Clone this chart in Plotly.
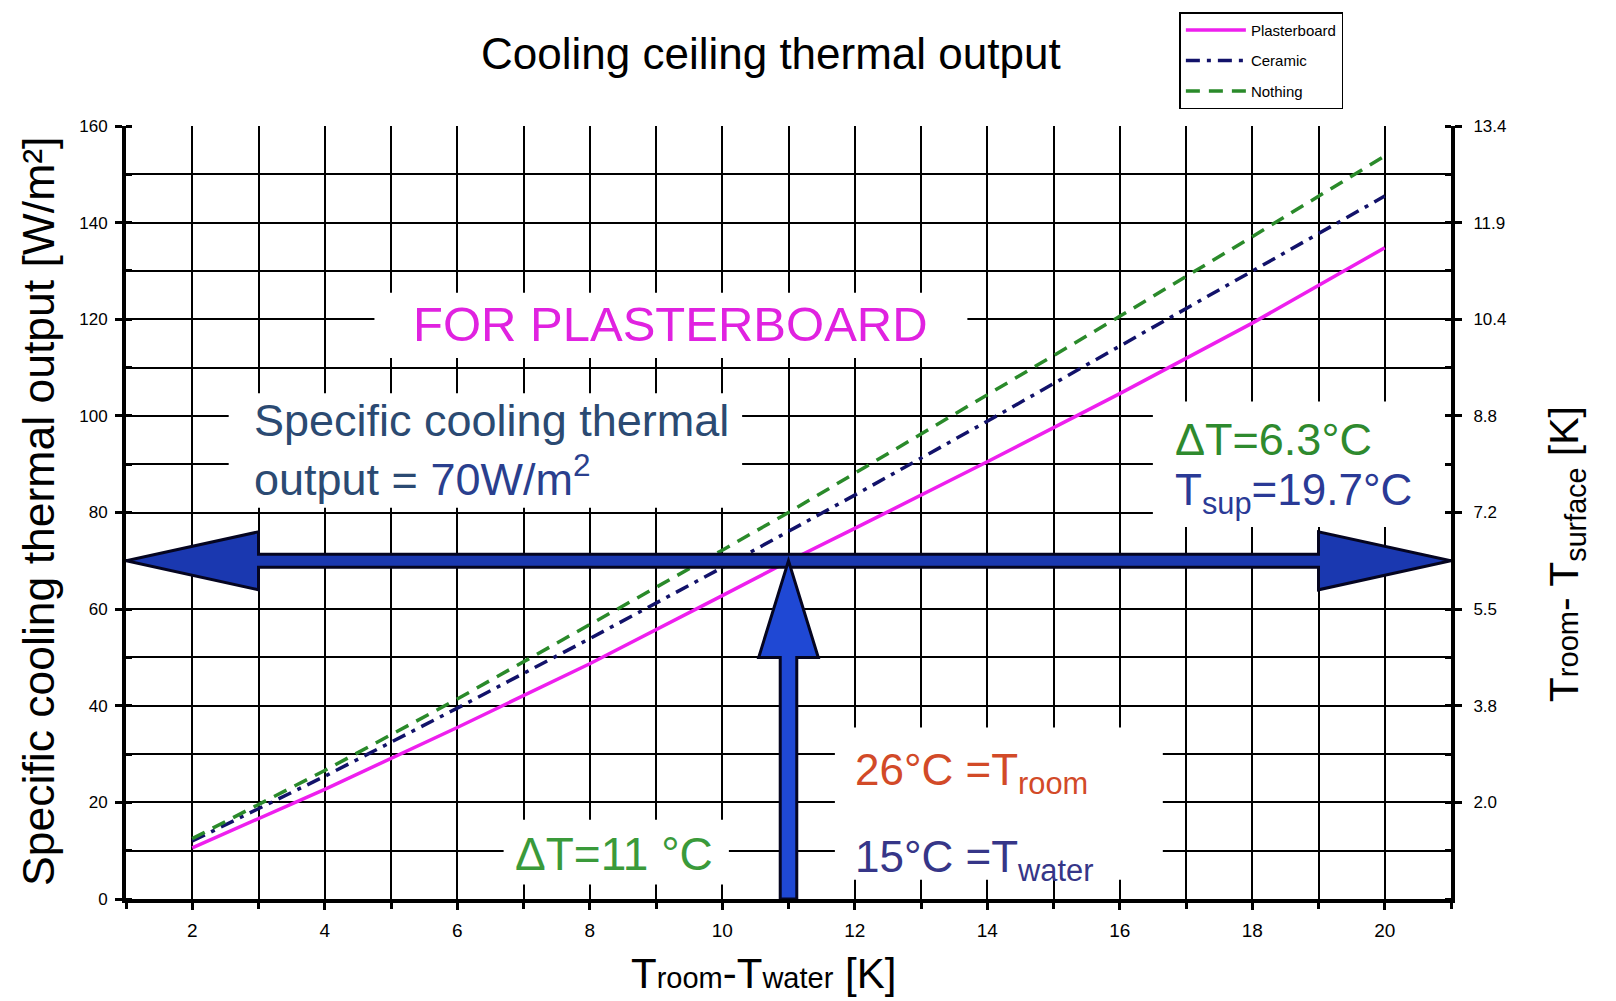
import plotly.graph_objects as go

# ---------------- data ----------------
delta_t = [2, 4, 6, 8, 10, 11, 12, 14, 16, 18, 20]
plasterboard = [10.6, 22.7, 35.5, 48.7, 62.8, 69.9, 76.7, 90.5, 104.6, 119.2, 134.8]
ceramic = [12.0, 25.4, 39.5, 53.9, 68.6, 76.0, 83.6, 98.9, 114.4, 130.0, 145.5]
nothing = [12.5, 26.6, 41.4, 56.7, 72.2, 80.0, 88.1, 104.3, 120.6, 137.1, 153.8]

x_ticks = [2, 4, 6, 8, 10, 12, 14, 16, 18, 20]
y_ticks = [0, 20, 40, 60, 80, 100, 120, 140, 160]
y2_ticks = [20, 40, 60, 80, 100, 120, 140, 160]
y2_labels = ["2.0", "3.8", "5.5", "7.2", "8.8", "10.4", "11.9", "13.4"]

target_output = 70   # W/m2
target_dt = 11       # K

FONT = "Liberation Sans, Arial, sans-serif"

fig = go.Figure()
fig.add_trace(go.Scatter(x=delta_t, y=plasterboard, mode="lines", name="Plasterboard",
                         legendgroup="a", line=dict(color="#ee1fee", width=3.5)))
fig.add_trace(go.Scatter(x=delta_t, y=ceramic, mode="lines", name="Ceramic",
                         legendgroup="b", line=dict(color="#12126a", width=3.5, dash="14px,7px,4px,7px")))
fig.add_trace(go.Scatter(x=delta_t, y=nothing, mode="lines", name="Nothing",
                         legendgroup="c", line=dict(color="#2a8a2a", width=3.5, dash="14px,9px")))
# secondary axis carrier
fig.add_trace(go.Scatter(x=[None], y=[None], yaxis="y2", showlegend=False, hoverinfo="skip"))

# white boxes hiding grid under the texts
boxes = [
    (4.75, 112, 13.7, 125.5),
    (2.55, 81, 10.3, 104.7),
    (16.5, 77, 20.95, 103),
    (11.7, 4, 16.65, 35.5),
    (6.7, 3, 10.1, 16.4),
]
shapes = []
for x0, y0, x1, y1 in boxes:
    shapes.append(dict(type="rect", xref="x", yref="y", x0=x0, y0=y0, x1=x1, y1=y1,
                       fillcolor="white", line=dict(width=0), layer="between"))

# arrows
xmin, xmax = 1, 21
hw = 1.35      # half shaft thickness (y units)
hh = 6.0       # half head height
hl = 2.0       # head length (x units)
h_path = (f"M {xmin},{target_output} L {xmin+hl},{target_output+hh} L {xmin+hl},{target_output+hw} "
          f"L {xmax-hl},{target_output+hw} L {xmax-hl},{target_output+hh} L {xmax},{target_output} "
          f"L {xmax-hl},{target_output-hh} L {xmax-hl},{target_output-hw} L {xmin+hl},{target_output-hw} "
          f"L {xmin+hl},{target_output-hh} Z")
shapes.append(dict(type="path", xref="x", yref="y", path=h_path, fillcolor="#1a38b0",
                   line=dict(color="#050520", width=3), layer="above"))
vw = 0.125
vh = 0.45
vbase = 50
v_path = (f"M {target_dt-vw},0 L {target_dt-vw},{vbase} L {target_dt-vh},{vbase} L {target_dt},{target_output} "
          f"L {target_dt+vh},{vbase} L {target_dt+vw},{vbase} L {target_dt+vw},0 Z")
shapes.append(dict(type="path", xref="x", yref="y", path=v_path, fillcolor="#1f48d4",
                   line=dict(color="#050520", width=3), layer="above"))

annotations = [
    dict(x=9.22, y=119.1, xref="x", yref="y", text="FOR PLASTERBOARD", showarrow=False,
         font=dict(size=49, color="#e022e0", family=FONT)),
    dict(x=2.9, y=92.9, xref="x", yref="y", xanchor="left", yanchor="middle", align="left", showarrow=False,
         text="Specific cooling thermal<br>output = <span style='color:#2a3f8e'>70W/m<sup>2</sup></span>",
         font=dict(size=45, color="#2b4a72", family=FONT)),
    dict(x=16.8, y=95.1, xref="x", yref="y", xanchor="left", showarrow=False,
         text="ΔT=6.3°C", font=dict(size=45, color="#2e8a2e", family=FONT)),
    dict(x=16.8, y=84.0, xref="x", yref="y", xanchor="left", showarrow=False,
         text="T<sub>sup</sub>=19.7°C", font=dict(size=44, color="#2a3a96", family=FONT)),
    dict(x=11.97, y=26.0, xref="x", yref="y", xanchor="left", showarrow=False,
         text="26°C =T<sub>room</sub>", font=dict(size=44, color="#d24a28", family=FONT)),
    dict(x=11.97, y=8.0, xref="x", yref="y", xanchor="left", showarrow=False,
         text="15°C =T<sub>water</sub>", font=dict(size=44, color="#363688", family=FONT)),
    dict(x=8.36, y=9.4, xref="x", yref="y", showarrow=False,
         text="ΔT=11 °C", font=dict(size=46, color="#3a9a3a", family=FONT)),
    # axis titles
    dict(x=-0.0657, y=0.502, xref="paper", yref="paper", xanchor="center", yanchor="middle",
         textangle=-90, showarrow=False,
         text="Specific cooling thermal output [W/m²]", font=dict(size=44.5, color="black", family=FONT)),
    dict(x=0.481, y=-0.097, xref="paper", yref="paper", xanchor="center", yanchor="middle", showarrow=False,
         text="T<span style='font-size:29px'>room</span>-T<span style='font-size:29px'>water</span> [K]",
         font=dict(size=42, color="black", family=FONT)),
    dict(x=1.0875, y=0.446, xref="paper", yref="paper", xanchor="center", yanchor="middle",
         textangle=-90, showarrow=False,
         text="T<span style='font-size:29px'>room</span>- T<sub>surface</sub> [K]",
         font=dict(size=41, color="black", family=FONT)),
]

fig.update_layout(
    width=1616, height=1001,
    margin=dict(l=126, r=165, t=124, b=102),
    paper_bgcolor="white", plot_bgcolor="white",
    font=dict(family=FONT, color="black"),
    title=dict(text="Cooling ceiling thermal output", x=0.477, xanchor="center",
               y=0.946, yanchor="middle", font=dict(size=44, color="black", family=FONT)),
    xaxis=dict(range=[1, 21], tickvals=x_ticks, showgrid=True, gridcolor="black", gridwidth=1.5,
               showline=True, linecolor="black", linewidth=4, ticks="outside", ticklen=7, tickwidth=3,
               tickcolor="black", tickfont=dict(size=19), ticklabelstandoff=4, zeroline=False,
               minor=dict(dtick=1, tick0=0, showgrid=True, gridcolor="black", gridwidth=1.5,
                          ticks="outside", ticklen=6, tickwidth=3, tickcolor="black")),
    yaxis=dict(range=[0, 160], tickvals=y_ticks, showgrid=True, gridcolor="black", gridwidth=1.5,
               showline=True, linecolor="black", linewidth=4, ticks="outside", ticklen=7, tickwidth=3,
               tickcolor="black", tickfont=dict(size=17), ticklabelstandoff=4, zeroline=False,
               minor=dict(dtick=10, tick0=0, showgrid=True, gridcolor="black", gridwidth=1.5,
                          ticks="inside", ticklen=6, tickwidth=3, tickcolor="black")),
    yaxis2=dict(range=[0, 160], overlaying="y", side="right", tickvals=y2_ticks, ticktext=y2_labels,
                showgrid=False, showline=True, linecolor="black", linewidth=4, ticks="outside",
                ticklen=7, tickwidth=3, tickcolor="black", tickfont=dict(size=17), ticklabelstandoff=8,
                zeroline=False,
                minor=dict(dtick=10, tick0=0, ticks="inside", ticklen=6, tickwidth=3, tickcolor="black")),
    legend=dict(x=0.795, y=1.147, xanchor="left", yanchor="top", bgcolor="white",
                bordercolor="black", borderwidth=1.5, font=dict(size=15, family=FONT),
                itemwidth=60, tracegroupgap=8),
    shapes=shapes,
    annotations=annotations,
)

fig.write_html("out.html")
